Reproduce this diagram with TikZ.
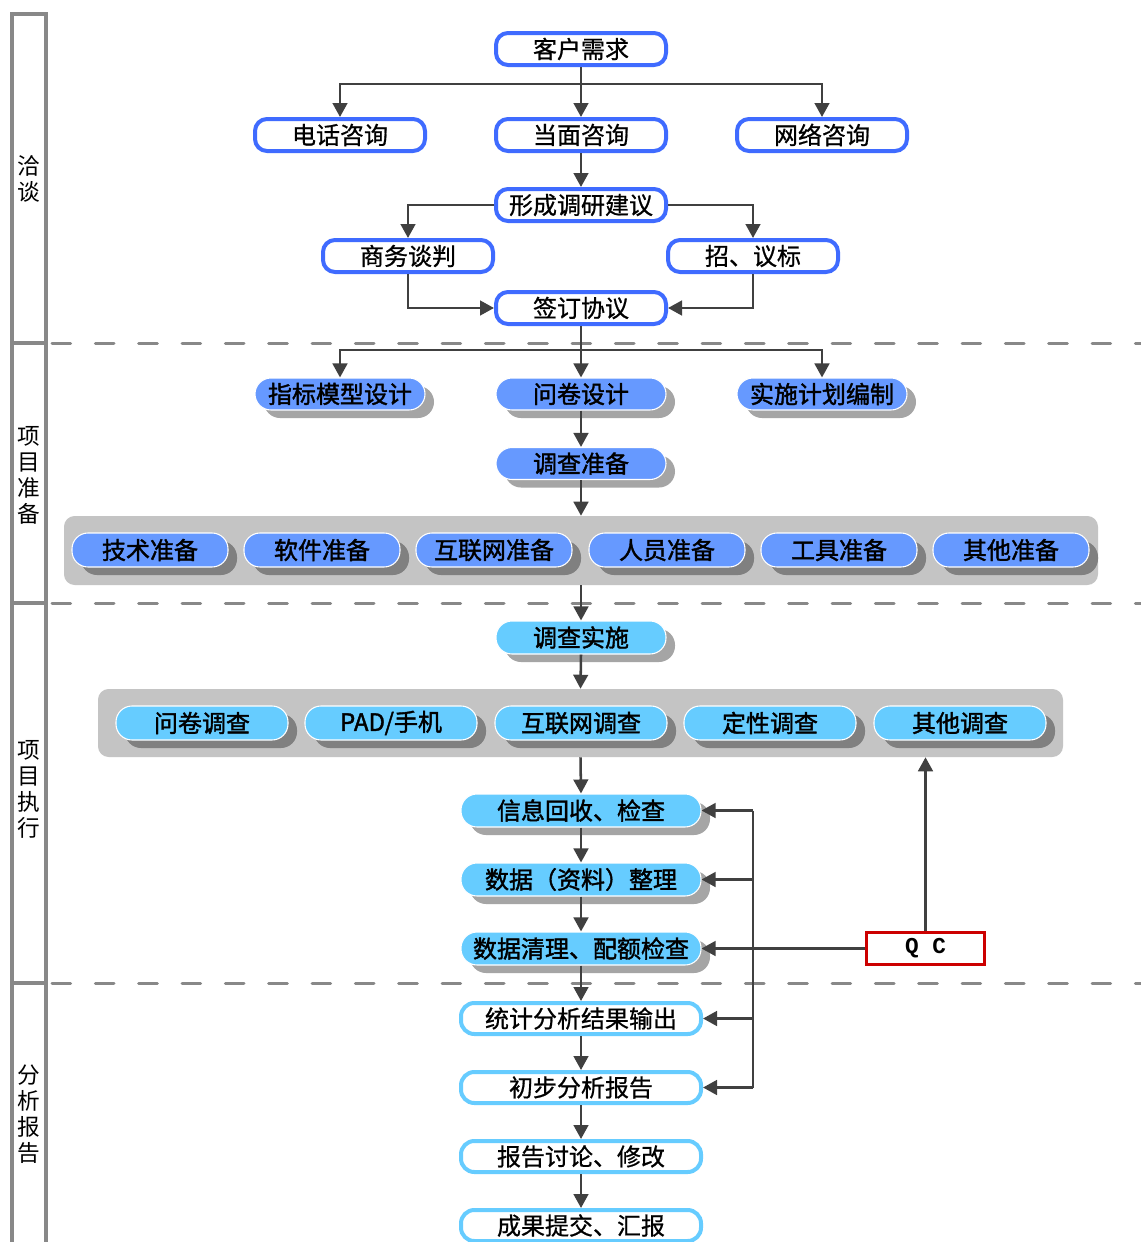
\documentclass[tikz,border=0pt]{standalone}
\usepackage{fontspec}
\usetikzlibrary{arrows.meta,shadows}
\newfontfamily\cjk{Noto Sans CJK SC}
\newfontfamily\cjkm[FakeBold=0.8]{Noto Sans CJK SC}
\newfontfamily\cjkb[FakeBold=1.6]{Noto Sans CJK SC}
\newfontfamily\qcfont{Liberation Mono}
\definecolor{edgeBlue}{HTML}{3F6BFF}
\definecolor{prepFill}{HTML}{6699FF}
\definecolor{execFill}{HTML}{66CCFF}
\definecolor{panelGray}{HTML}{C4C4C4}
\definecolor{shadeLight}{HTML}{A5A5A5}
\definecolor{shadeDark}{HTML}{808080}
\definecolor{laneGray}{HTML}{888888}
\definecolor{wireGray}{HTML}{404040}
\definecolor{qcRed}{HTML}{CC0000}
\tikzset{
  lane/.style={draw=laneGray,line width=3pt},
  sep/.style={draw=laneGray,line width=2.25pt,line cap=round,dash pattern=on 14pt off 18.5pt},
  lanelabel/.style={align=center,inner sep=0pt,font=\cjk\fontsize{17}{19.5}\selectfont},
  wire/.style={draw=wireGray,line width=1.9pt},
  arr/.style={wire,-{Triangle[length=10.5pt,width=11pt]}},
  talkbox/.style={draw=edgeBlue,line width=3pt,fill=white,rounded corners=9pt,
    minimum width=127.5pt,minimum height=24pt,inner sep=0pt,font=\cjkm\fontsize{18}{18}\selectfont},
  reportbox/.style={draw=execFill,line width=3pt,fill=white,rounded corners=10pt,
    minimum width=180pt,minimum height=23.25pt,inner sep=0pt,font=\cjkm\fontsize{18}{18}\selectfont},
  pill/.style={draw=white,line width=0.8pt,rounded corners=12pt,inner sep=0pt,
    font=\cjkb\fontsize{18}{18}\selectfont},
  shadeA/.style={drop shadow={shadow xshift=6.75pt,shadow yshift=-6pt,fill=shadeLight,opacity=1}},
  shadeB/.style={drop shadow={shadow xshift=6.75pt,shadow yshift=-6pt,fill=shadeDark,opacity=1}},
  prepbox/.style={pill,fill=prepFill,shadeA,minimum width=127.5pt,minimum height=24pt},
  prepsub/.style={pill,fill=prepFill,shadeB,minimum width=117pt,minimum height=25.5pt},
  execbox/.style={pill,fill=execFill,shadeA,minimum width=127.5pt,minimum height=24.75pt},
  execsub/.style={pill,fill=execFill,shadeB,minimum width=129pt,minimum height=25.5pt},
  stepwide/.style={pill,fill=execFill,shadeA,minimum width=180pt,minimum height=24.75pt},
  panel/.style={fill=panelGray,rounded corners=8pt,inner sep=0pt},
}
\begin{document}
\begin{tikzpicture}[x=0.75pt,y=-0.75pt]
\useasboundingbox[fill=white] (0,0) rectangle (1141,1242);

% phase column on the left
\draw[lane] (12,1242) -- (12,14) -- (46,14) -- (46,1242);
\foreach \yy in {343,603,983}{
  \draw[lane] (12,\yy) -- (46,\yy);
  \draw[sep] (52,\yy) -- (1141,\yy);
}
\node[lanelabel] (ph1) at (29,179) {洽\\谈};
\node[lanelabel] (ph2) at (29,475) {项\\目\\准\\备};
\node[lanelabel] (ph3) at (29,789) {项\\目\\执\\行};
\node[lanelabel] (ph4) at (29,1114) {分\\析\\报\\告};

% negotiation
\node[talkbox] (kh) at (581,49) {客户需求};
\node[talkbox] (dh) at (340,135) {电话咨询};
\node[talkbox] (dm) at (581,135) {当面咨询};
\node[talkbox] (wl) at (822,135) {网络咨询};
\node[talkbox] (xc) at (581,205) {形成调研建议};
\node[talkbox] (sw) at (408,256) {商务谈判};
\node[talkbox] (zb) at (753,256) {招、议标};
\node[talkbox] (qd) at (581,308) {签订协议};

% preparation
\node[prepbox] (zm) at (340,394) {指标模型设计};
\node[prepbox] (wj) at (581,394) {问卷设计};
\node[prepbox] (ss) at (822,394) {实施计划编制};
\node[prepbox] (dz) at (581,463.5) {调查准备};
\node[panel,minimum width=775.5pt,minimum height=51.75pt] (pa) at (581,550.5) {};
\node[prepsub] (p1) at (150,550) {技术准备};
\node[prepsub] (p2) at (322,550) {软件准备};
\node[prepsub] (p3) at (494,550) {互联网准备};
\node[prepsub] (p4) at (667,550) {人员准备};
\node[prepsub] (p5) at (839,550) {工具准备};
\node[prepsub] (p6) at (1011,550) {其他准备};

% execution
\node[execbox] (ssh) at (581,637.5) {调查实施};
\node[panel,minimum width=723.75pt,minimum height=51pt] (pb) at (580.5,723) {};
\node[execsub] (e1) at (202,723) {问卷调查};
\node[execsub] (e2) at (391,723) {PAD/手机};
\node[execsub] (e3) at (581,723) {互联网调查};
\node[execsub] (e4) at (770,723) {定性调查};
\node[execsub] (e5) at (960,723) {其他调查};
\node[stepwide] (xx) at (581,810.5) {信息回收、检查};
\node[stepwide] (sj) at (581,879.5) {数据（资料）整理};
\node[stepwide] (qx) at (581,948.5) {数据清理、配额检查};
\node[draw=qcRed,line width=2.25pt,fill=white,minimum width=88.5pt,minimum height=24pt,
  inner sep=0pt,font=\qcfont\bfseries\fontsize{17}{17}\selectfont] (qc) at (925.5,948.5) {Q C};

% analysis and report
\node[reportbox] (tj) at (581,1018.5) {统计分析结果输出};
\node[reportbox] (cb) at (581,1087.5) {初步分析报告};
\node[reportbox] (bt) at (581,1156.5) {报告讨论、修改};
\node[reportbox] (cg) at (581,1225.5) {成果提交、汇报};

% connectors: negotiation
\coordinate (j1) at (581,84);
\draw[arr] (kh.south) -- (dm.north);
\draw[arr] (j1) -| (dh.north);
\draw[arr] (j1) -| (wl.north);
\draw[arr] (dm.south) -- (xc.north);
\draw[arr] (xc.west) -| (sw.north);
\draw[arr] (xc.east) -| (zb.north);
\draw[arr] (sw.south) |- (qd.west);
\draw[arr] (zb.south) |- (qd.east);

% connectors: preparation
\coordinate (j2) at (581,350);
\draw[arr] (qd.south) -- (wj.north);
\draw[arr] (j2) -| (zm.north);
\draw[arr] (j2) -| (ss.north);
\draw[arr] (wj.south) -- (dz.north);
\draw[arr] (dz.south) -- (pa.north);

% connectors: execution
\draw[arr] (pa.south) -- (ssh.north);
\draw[arr] (ssh.south) -- (pb.north);
\draw[arr] (pb.south) -- (xx.north);
\draw[arr] (xx.south) -- (sj.north);
\draw[arr] (sj.south) -- (qx.north);
\draw[arr] (qc.north) -- (qc.north |- pb.south);
\draw[arr] (qc.west) -- (qx.east);

% feedback rail
\coordinate (fb1) at (753,810.5);
\coordinate (fb2) at (753,1087.5);
\draw[wire] (fb1) -- (fb2);
\draw[arr] (fb1) -- (xx.east);
\draw[arr] (sj.east -| fb1) -- (sj.east);
\draw[arr] (tj.east -| fb1) -- (tj.east);
\draw[arr] (fb2) -- (cb.east);

% connectors: analysis
\draw[arr] (qx.south) -- (tj.north);
\draw[arr] (tj.south) -- (cb.north);
\draw[arr] (cb.south) -- (bt.north);
\draw[arr] (bt.south) -- (cg.north);
\end{tikzpicture}
\end{document}
